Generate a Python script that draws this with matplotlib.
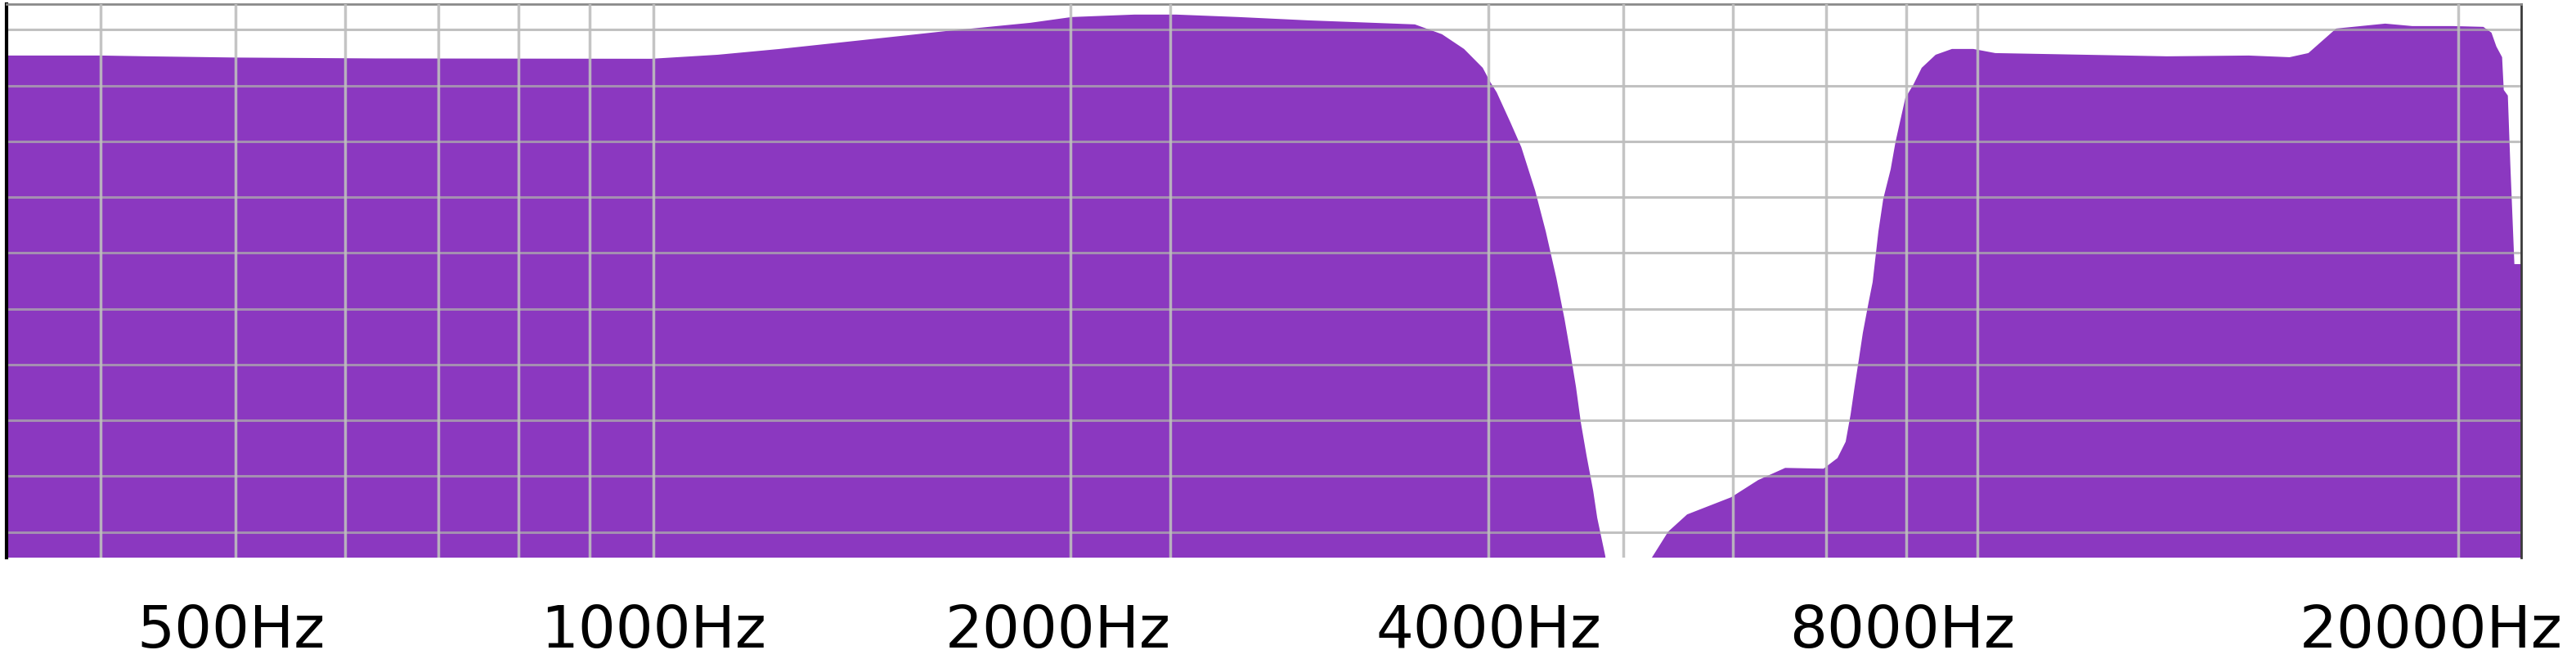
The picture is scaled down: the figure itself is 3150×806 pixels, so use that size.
import matplotlib
matplotlib.use("Agg")
import matplotlib.pyplot as plt
from matplotlib.transforms import ScaledTranslation

# ---- data ----
freq_hz = [342, 400, 432, 500, 631, 997, 1113, 1234, 1417, 1628, 1869, 2003,
           2223, 2382, 2641, 2968, 3308, 3540, 3703, 3841, 3962, 4011, 4055,
           4149, 4224, 4322, 4399, 4477, 4538, 4581, 4625, 4663, 4707, 4759,
           4791, 4856, 4876, 5218, 5246, 5390, 5562, 5984, 6258, 6545, 6975,
           7138, 7236, 7295, 7344, 7395, 7445, 7516, 7567, 7640, 7702, 7797,
           7861, 7989, 8099, 8209, 8401, 8632, 8942, 9275, 10770, 12332, 14125,
           15115, 15594, 15958, 16331, 17715, 18527, 19827, 20847, 21131, 21303,
           21507, 21566, 21713, 21801, 21950, 22200]
level_db = [-2.31, -2.31, -2.38, -2.49, -2.57, -2.60, -2.24, -1.72, -0.92,
            -0.11, 0.62, 1.14, 1.36, 1.36, 1.14, 0.84, 0.62, 0.48, -0.40,
            -1.72, -3.41, -4.66, -5.61, -8.32, -10.52, -14.41, -18.07, -22.25,
            -25.92, -28.85, -32.0, -35.22, -38.16, -41.31, -43.73, -47.18,
            -50.0, -50.0, -47.3, -44.97, -43.43, -41.89, -40.35, -39.26,
            -39.33, -38.38, -36.91, -34.49, -32.0, -29.58, -27.16, -24.45,
            -22.62, -18.07, -15.14, -12.50, -10.01, -6.12, -4.88, -3.41, -2.24,
            -1.72, -1.72, -2.09, -2.24, -2.38, -2.31, -2.46, -2.09, -0.99,
            0.11, 0.55, 0.33, 0.33, 0.26, -0.26, -1.50, -2.46, -5.39, -5.90,
            -11.99, -21.0, -21.0]

tick_freqs = [500, 1000, 2000, 4000, 8000, 20000]
tick_labels = ["500Hz", "1000Hz", "2000Hz", "4000Hz", "8000Hz", "20000Hz"]
grid_freqs = [400, 600, 700, 800, 900, 2360, 5000, 6000, 7000, 9000]
db_grid = [0, -5, -10, -15, -20, -25, -30, -35, -40, -45]

FILL = "#8B38C0"

fig = plt.figure(figsize=(31.5, 8.06), dpi=100)
ax = fig.add_axes([8/3150, 1 - 682/806, (3083 - 8)/3150, (682 - 5)/806])

ax.fill_between(freq_hz, level_db, -60, color=FILL, linewidth=0, zorder=1)

ax.set_xscale("log")
ax.set_xlim(342, 22200)
ax.set_ylim(-47.3, 2.3)

ax.set_xticks(tick_freqs)
ax.set_xticklabels(tick_labels)
ax.set_xticks(grid_freqs, minor=True)
ax.xaxis.set_minor_formatter(plt.NullFormatter())
ax.set_yticks(db_grid)
ax.set_yticklabels([])

ax.tick_params(axis="x", which="both", length=0, pad=40, labelsize=52)
ax.tick_params(axis="y", which="both", length=0)

for f in tick_freqs + grid_freqs:
    ax.axvline(f, color="#BEBEBE", alpha=0.9, lw=2.5, zorder=3)
for d in db_grid:
    ax.axhline(d, color="#ADADAD", alpha=0.75, lw=2.2, zorder=2)

ax.spines["bottom"].set_visible(False)
ax.spines["left"].set_color("black")
ax.spines["left"].set_linewidth(3)
ax.spines["top"].set_color("#8A8A8A")
ax.spines["top"].set_linewidth(2)
ax.spines["right"].set_color("#3A3A3A")
ax.spines["right"].set_linewidth(2)

# small label nudges as in the reference (last one kept inside the figure)
labels = ax.get_xticklabels()
for lab, dx in zip(labels, [-0.05, 0.0, -0.16, 0.0, -0.05, -0.33]):
    if dx:
        lab.set_transform(lab.get_transform() + ScaledTranslation(dx, 0, fig.dpi_scale_trans))

fig.savefig("out.png", dpi=100, facecolor="white")
